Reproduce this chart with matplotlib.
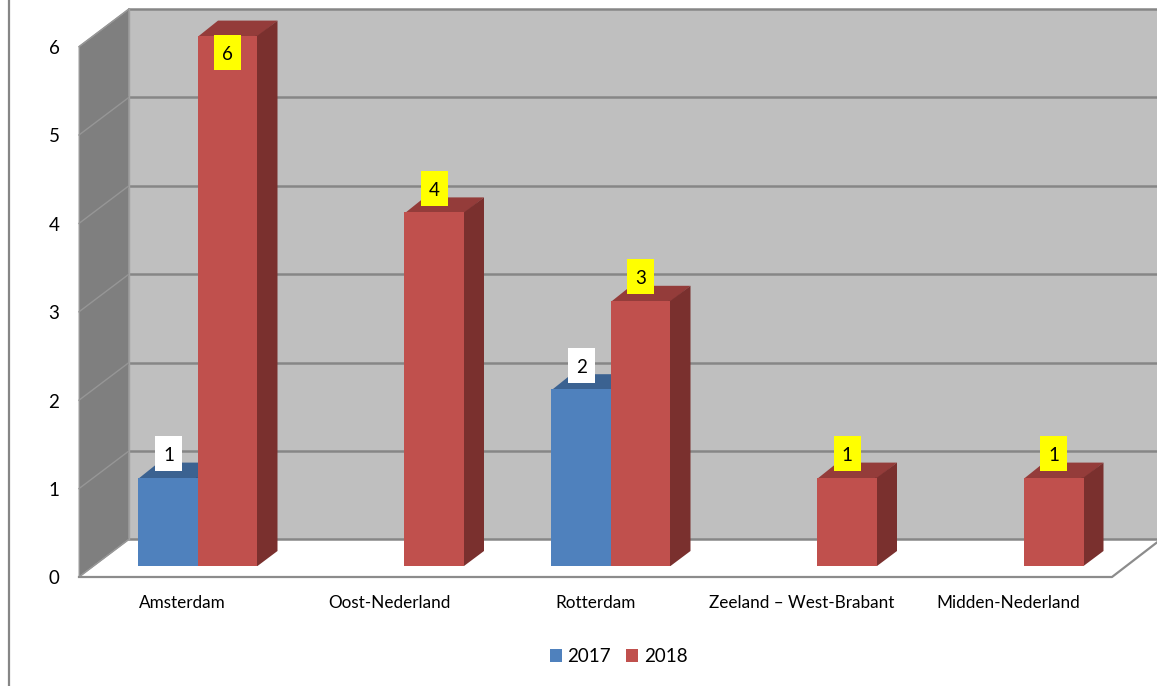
import matplotlib
matplotlib.use("Agg")
import matplotlib.pyplot as plt
from matplotlib.patches import Polygon, Patch, Rectangle

categories = ["Amsterdam", "Oost-Nederland", "Rotterdam", "Zeeland – West-Brabant", "Midden-Nederland"]
series_names = ["2017", "2018"]
values_2017 = [1, 0, 2, 0, 0]
values_2018 = [6, 4, 3, 1, 1]
y_ticks = [0, 1, 2, 3, 4, 5, 6]

W, H = 1157, 686
PX_X = 206.5      # pixels per category
PX_Y = 88.4       # pixels per value unit
X0, Y0 = 198.0, 566.0

fig = plt.figure(figsize=(W / 100, H / 100), dpi=100, facecolor="white")
ax = fig.add_axes([0, 0, 1, 1])
ax.set_xlim(-X0 / PX_X, (W - X0) / PX_X)
ax.set_ylim((Y0 - H) / PX_Y, Y0 / PX_Y)
ax.axis("off")
plt.rcParams["font.family"] = ["Lato", "DejaVu Sans"]

dxp = lambda p: p / PX_X
dyp = lambda p: p / PX_Y

BAR_W = dxp(59.5)
DEPTH_X, DEPTH_Y = dxp(20), dyp(15)
BACK_X, BACK_Y = dxp(129 - X0), dyp(26.7)
FRONT_X, FRONT_Y = dxp(79 - X0), dyp(-11)
TOP = max(y_ticks)
RIGHT = dxp(1157 - X0)
FLOOR_R = dxp(1112 - X0)
FLOOR_R2 = dxp(1161 - X0)

# frame line on the left
ax.plot([dxp(9 - X0)] * 2, [ax.get_ylim()[0], ax.get_ylim()[1]], color="#868686", lw=1.6, zorder=1)

# back wall, floor, side wall
ax.add_patch(Polygon([(BACK_X, BACK_Y), (RIGHT, BACK_Y), (RIGHT, TOP + BACK_Y), (BACK_X, TOP + BACK_Y)],
                     fc="#bfbfbf", ec="none", zorder=1))
ax.add_patch(Polygon([(FRONT_X, FRONT_Y), (BACK_X, BACK_Y), (FLOOR_R2, BACK_Y), (FLOOR_R, FRONT_Y)],
                     fc="white", ec="none", zorder=1.2))
ax.add_patch(Polygon([(FRONT_X, FRONT_Y), (BACK_X, BACK_Y), (BACK_X, TOP + BACK_Y), (FRONT_X, TOP + FRONT_Y)],
                     fc="#7f7f7f", ec="#a6a6a6", lw=0.8, zorder=1.3))
for v in y_ticks:
    ax.plot([BACK_X, RIGHT], [v + BACK_Y] * 2, color="#868686", lw=1.8, zorder=1.4)
    ax.plot([FRONT_X, BACK_X], [v + FRONT_Y, v + BACK_Y], color="#969696", lw=1.0, zorder=1.4)
    ax.text(dxp(54 - X0), v + FRONT_Y - dyp(2), str(v), ha="center", va="center", fontsize=13.5,
            color="black", zorder=6)
# floor front edges
ax.plot([FRONT_X, FLOOR_R, FLOOR_R2], [FRONT_Y, FRONT_Y, BACK_Y], color="#8c8c8c", lw=1.6, zorder=1.5)
ax.plot([BACK_X, BACK_X], [BACK_Y, TOP + BACK_Y], color="#a0a0a0", lw=1.0, zorder=1.5)


def draw_bars(offset, values, front, top, side, z):
    xs = [i + offset for i in range(len(values))]
    shown = [(x, v) for x, v in zip(xs, values) if v > 0]
    overlap = dxp(2)
    for x, v in shown:
        ax.add_patch(Polygon([(x, v - dyp(1)), (x + BAR_W, v - dyp(1)), (x + BAR_W + DEPTH_X, v + DEPTH_Y),
                              (x + DEPTH_X, v + DEPTH_Y)], fc=top, ec="none", zorder=z))
        ax.add_patch(Polygon([(x + BAR_W - overlap, 0), (x + BAR_W, 0), (x + BAR_W + DEPTH_X, DEPTH_Y),
                              (x + BAR_W + DEPTH_X, v + DEPTH_Y), (x + BAR_W, v), (x + BAR_W - overlap, v)],
                             fc=side, ec="none", zorder=z))
    ax.bar([s[0] for s in shown], [s[1] for s in shown], width=BAR_W, align="edge",
           color=front, linewidth=0, zorder=z + 0.1)


draw_bars(-BAR_W, values_2017, "#4f81bd", "#3b6291", "#2f4e74", 2)
draw_bars(0, values_2018, "#c0504d", "#943c3a", "#7a302e", 3)


def label(x, v, text, fc):
    # the tallest bar holds its label inside; others sit above the bar
    yc = v - dyp(17) if v == TOP else v + dyp(24)
    bw, bh = dxp(27), dyp(35)
    ax.add_patch(Rectangle((x - bw / 2, yc - bh / 2), bw, bh, fc=fc, ec="none", zorder=6.5))
    ax.text(x, yc - dyp(2), text, ha="center", va="center", fontsize=13.5, color="black", zorder=7)


for i, (a, b) in enumerate(zip(values_2017, values_2018)):
    if a > 0:
        label(i - BAR_W / 2 + dxp(0.5), a, str(a), "white")
    if b > 0:
        label(i + BAR_W / 2, b, str(b), "#ffff00")

for i, c in enumerate(categories):
    ax.text(i - dxp(15.5), dyp(Y0 - 603), c, ha="center", va="center", fontsize=12.3, color="black", zorder=6)

handles = [Patch(fc="#4f81bd", ec="none", label=series_names[0]),
           Patch(fc="#c0504d", ec="none", label=series_names[1])]
ax.legend(handles=handles, ncol=2, loc="center", bbox_to_anchor=(618.5 / W, 1 - 656.5 / H),
          bbox_transform=fig.transFigure, frameon=False, fontsize=13.5, handlelength=0.64, handleheight=0.64,
          handletextpad=0.3, columnspacing=0.8, borderpad=0)

fig.savefig("out.png", dpi=100, facecolor="white")
